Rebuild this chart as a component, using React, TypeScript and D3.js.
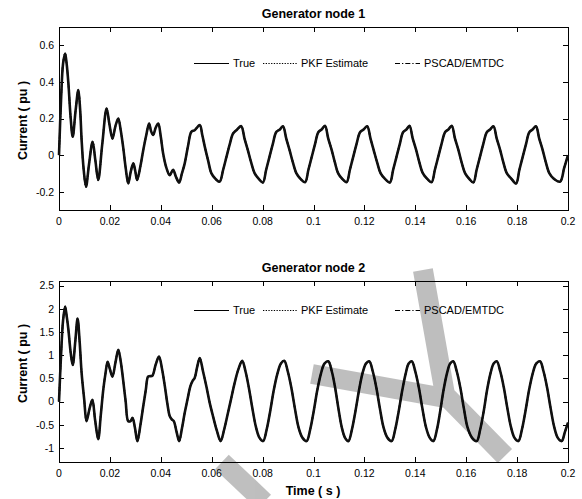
import React, { useEffect, useRef } from "react";
import * as d3 from "d3";

// ---- data ----
const time1 = [
  0.0, 0.0008, 0.0016, 0.0024, 0.003, 0.0037, 0.0046, 0.0054, 0.0065, 0.0076, 0.0083, 0.0089, 0.0097, 0.0106,
  0.0118, 0.0132, 0.0143, 0.0154, 0.017, 0.0187, 0.0198, 0.021, 0.0222, 0.0233, 0.0242, 0.0252, 0.0262, 0.0272,
  0.0282, 0.0292, 0.03, 0.0307, 0.032, 0.0331, 0.0343, 0.0354, 0.0362, 0.037, 0.038, 0.039, 0.04, 0.0409, 0.0422,
  0.0435, 0.0448, 0.046, 0.0472, 0.0483, 0.0494, 0.0507, 0.052, 0.0533, 0.0553, 0.0563, 0.0573, 0.0586, 0.0599,
  0.0615, 0.0631, 0.0645, 0.0658, 0.0671, 0.0684, 0.07, 0.0716, 0.0729, 0.0742, 0.0755, 0.0769, 0.0785, 0.0801,
  0.0814, 0.0827, 0.084, 0.0854, 0.0868, 0.088, 0.0893, 0.0906, 0.0919, 0.0933, 0.0949, 0.0967, 0.098, 0.0993,
  0.1006, 0.1019, 0.1032, 0.1045, 0.1058, 0.1071, 0.1084, 0.1097, 0.1113, 0.113, 0.1143, 0.1156, 0.1169, 0.1183,
  0.1197, 0.1211, 0.1224, 0.1237, 0.125, 0.1264, 0.1281, 0.13, 0.1313, 0.1326, 0.1339, 0.1352, 0.1365, 0.1377,
  0.139, 0.1403, 0.1416, 0.143, 0.1447, 0.1464, 0.1477, 0.149, 0.1503, 0.1517, 0.153, 0.1543, 0.1556, 0.1569,
  0.1582, 0.1596, 0.1612, 0.1628, 0.1641, 0.1654, 0.1667, 0.1681, 0.1694, 0.1707, 0.172, 0.1733, 0.1746, 0.176,
  0.1778, 0.1796, 0.1809, 0.1822, 0.1835, 0.1848, 0.1861, 0.1874, 0.1887, 0.19, 0.1913, 0.1927, 0.1945, 0.1969,
  0.1985, 0.2,
];
const current1 = [
  0.0, 0.3, 0.5, 0.555, 0.5, 0.39, 0.2, 0.1, 0.24, 0.355, 0.25, 0.08, -0.08, -0.173,
  -0.05, 0.073, -0.03, -0.136, 0.06, 0.255, 0.17, 0.09, 0.16, 0.2, 0.14, 0.045, -0.07, -0.155,
  -0.09, -0.045, -0.09, -0.136, -0.06, 0.027, 0.11, 0.173, 0.13, 0.11, 0.15, 0.173, 0.1, 0.01, -0.07,
  -0.11, -0.08, -0.12, -0.15, -0.1, -0.045, 0.05, 0.127, 0.136, 0.164, 0.11, 0.045, -0.03, -0.1,
  -0.13, -0.145, -0.08, -0.01, 0.06, 0.118, 0.14, 0.158, 0.09, 0.027, -0.04, -0.1, -0.13, -0.15,
  -0.08, -0.01, 0.06, 0.127, 0.14, 0.158, 0.09, 0.027, -0.04, -0.1, -0.13, -0.148, -0.08, -0.01,
  0.06, 0.125, 0.14, 0.16, 0.09, 0.03, -0.04, -0.1, -0.13, -0.148, -0.08, -0.01, 0.06, 0.125,
  0.14, 0.158, 0.09, 0.025, -0.04, -0.1, -0.13, -0.15, -0.08, -0.01, 0.06, 0.125, 0.14, 0.16,
  0.09, 0.03, -0.04, -0.1, -0.13, -0.148, -0.08, -0.01, 0.06, 0.125, 0.14, 0.16, 0.09, 0.03,
  -0.04, -0.1, -0.13, -0.15, -0.08, -0.01, 0.06, 0.125, 0.14, 0.158, 0.09, 0.03, -0.04, -0.1,
  -0.13, -0.155, -0.08, -0.01, 0.06, 0.125, 0.14, 0.158, 0.09, 0.03, -0.04, -0.1, -0.13, -0.145,
  -0.07, 0.0,
];

const time2 = [
  0.0, 0.0008, 0.0016, 0.0024, 0.003, 0.0037, 0.0046, 0.0054, 0.0064, 0.0073, 0.0081, 0.0089, 0.0099, 0.0108,
  0.012, 0.0131, 0.0142, 0.0154, 0.0164, 0.0174, 0.0183, 0.0191, 0.02, 0.021, 0.0222, 0.0233, 0.0243, 0.0252,
  0.0262, 0.0272, 0.0281, 0.0289, 0.0298, 0.0308, 0.032, 0.0331, 0.0341, 0.035, 0.0358, 0.0367, 0.038, 0.0393,
  0.0405, 0.0416, 0.0426, 0.0435, 0.0443, 0.0451, 0.0462, 0.0472, 0.0483, 0.0494, 0.0505, 0.0516, 0.0525, 0.0533,
  0.0543, 0.0553, 0.0566, 0.0579, 0.0592, 0.0605, 0.062, 0.0635, 0.0649, 0.0664, 0.0677, 0.069, 0.0705, 0.072,
  0.0733, 0.0746, 0.076, 0.0774, 0.0788, 0.0802, 0.0816, 0.083, 0.0844, 0.0858, 0.0872, 0.0885, 0.0899, 0.0913,
  0.0927, 0.0941, 0.0957, 0.0973, 0.0987, 0.1001, 0.1015, 0.1029, 0.1043, 0.1058, 0.1072, 0.1085, 0.1098, 0.1111,
  0.1124, 0.1137, 0.1151, 0.1165, 0.1179, 0.1192, 0.1206, 0.1219, 0.1233, 0.1247, 0.1261, 0.1275, 0.1291, 0.1307,
  0.1321, 0.1335, 0.1349, 0.1362, 0.1374, 0.1386, 0.14, 0.1414, 0.1428, 0.1442, 0.1457, 0.1471, 0.1485, 0.1498,
  0.1511, 0.1524, 0.1537, 0.1549, 0.1563, 0.1577, 0.1591, 0.1605, 0.1623, 0.1641, 0.1655, 0.1669, 0.1682, 0.1695,
  0.1708, 0.172, 0.1734, 0.1748, 0.1762, 0.1776, 0.179, 0.1805, 0.1819, 0.1833, 0.1847, 0.1861, 0.1875, 0.189,
  0.1904, 0.1918, 0.1932, 0.1946, 0.196, 0.1975, 0.1988, 0.2,
];
const current2 = [
  0.0, 1.0, 1.75, 2.05, 1.85, 1.55, 1.05, 0.79, 1.3, 1.79, 1.3, 0.61, 0.05, -0.42,
  -0.15, 0.04, -0.4, -0.81, -0.3, 0.26, 0.62, 0.86, 0.7, 0.54, 0.85, 1.12, 0.85, 0.47,
  0.0, -0.42, -0.42, -0.35, -0.55, -0.85, -0.5, -0.1, 0.25, 0.54, 0.55, 0.56, 0.8, 0.97,
  0.7, 0.33, -0.05, -0.31, -0.38, -0.42, -0.65, -0.85, -0.58, -0.24, 0.05, 0.33, 0.45, 0.51,
  0.75, 0.94, 0.65, 0.33, -0.02, -0.31, -0.62, -0.85, -0.6, -0.24, 0.08, 0.4, 0.7, 0.88,
  0.65, 0.3, -0.15, -0.55, -0.78, -0.85, -0.6, -0.2, 0.25, 0.6, 0.82, 0.88, 0.65, 0.3,
  -0.15, -0.55, -0.78, -0.85, -0.6, -0.2, 0.25, 0.6, 0.82, 0.87, 0.65, 0.3, -0.15, -0.55,
  -0.78, -0.85, -0.6, -0.2, 0.25, 0.6, 0.82, 0.87, 0.65, 0.3, -0.15, -0.55, -0.78, -0.85,
  -0.6, -0.2, 0.25, 0.6, 0.82, 0.87, 0.65, 0.3, -0.15, -0.55, -0.78, -0.85, -0.6, -0.2,
  0.25, 0.6, 0.82, 0.87, 0.65, 0.3, -0.15, -0.55, -0.78, -0.85, -0.6, -0.2, 0.25, 0.6,
  0.82, 0.87, 0.65, 0.3, -0.15, -0.55, -0.78, -0.85, -0.6, -0.2, 0.25, 0.6, 0.82, 0.87,
  0.65, 0.3, -0.15, -0.55, -0.78, -0.85, -0.65, -0.45,
];

const seriesNames = ["True", "PKF Estimate", "PSCAD/EMTDC"];
const titles = ["Generator node 1", "Generator node 2"];
const xTicks = [0, 0.02, 0.04, 0.06, 0.08, 0.1, 0.12, 0.14, 0.16, 0.18, 0.2];
const yTicks1 = [-0.2, 0, 0.2, 0.4, 0.6];
const yTicks2 = [-1, -0.5, 0, 0.5, 1, 1.5, 2, 2.5];

// gray overlay strokes on the lower panel, in its (s, pu) units
const overlayA = [[0.143, 2.837], [0.1517, 0.144], [0.1752, -1.17]];
const overlayB = [[0.0994, 0.596], [0.1517, 0.079]];
const overlayC = [[0.064, -1.3], [0.0806, -2.16]];

const W = 582;
const H = 499;
const FONT = "'Liberation Sans', Arial, Helvetica, sans-serif";

const panels = [
  { title: titles[0], time: time1, values: current1, yDomain: [-0.3, 0.7], yTicks: yTicks1, top: 27, bottom: 210, legendY: 63 },
  { title: titles[1], time: time2, values: current2, yDomain: [-1.3, 2.6], yTicks: yTicks2, top: 281, bottom: 462, legendY: 310 },
];

const dashes = [null, "1.3,1.4", "5,2,1.3,2"];

export default function App() {
  const ref = useRef<SVGSVGElement>(null);

  useEffect(() => {
    const svg = d3.select(ref.current);
    svg.selectAll("*").remove();

    const left = 59;
    const right = 568;
    const x = d3.scaleLinear().domain([0, 0.2]).range([left, right]);
    const fmt = (v: number) => String(+v.toFixed(2));

    panels.forEach((p, pi) => {
      const y = d3.scaleLinear().domain(p.yDomain).range([p.bottom, p.top]);
      const g = svg.append("g");

      // frame
      g.append("rect")
        .attr("x", left + 0.5).attr("y", p.top + 0.5)
        .attr("width", right - left).attr("height", p.bottom - p.top)
        .attr("fill", "none").attr("stroke", "#000").attr("stroke-width", 1);

      // x ticks (bottom + top, inward)
      xTicks.forEach(t => {
        const xx = Math.round(x(t)) + 0.5;
        g.append("line").attr("x1", xx).attr("x2", xx).attr("y1", p.bottom).attr("y2", p.bottom - 5).attr("stroke", "#000");
        g.append("line").attr("x1", xx).attr("x2", xx).attr("y1", p.top).attr("y2", p.top + 5).attr("stroke", "#000");
        g.append("text")
          .attr("x", x(t)).attr("y", p.bottom + 15)
          .attr("text-anchor", "middle")
          .attr("font-size", 10.5).attr("font-family", FONT)
          .text(fmt(t));
      });

      // y ticks (left + right, inward)
      p.yTicks.forEach(v => {
        const yy = Math.round(y(v)) + 0.5;
        g.append("line").attr("x1", left).attr("x2", left + 5).attr("y1", yy).attr("y2", yy).attr("stroke", "#000");
        g.append("line").attr("x1", right).attr("x2", right - 5).attr("y1", yy).attr("y2", yy).attr("stroke", "#000");
        g.append("text")
          .attr("x", left - 5).attr("y", y(v) + 3.8)
          .attr("text-anchor", "end")
          .attr("font-size", 10.5).attr("font-family", FONT)
          .text(fmt(v));
      });

      // curves: three overlapping series
      const line = d3.line<number>()
        .x((_, i) => x(p.time[i]))
        .y(d => y(d))
        .curve(d3.curveCatmullRom.alpha(0.5));
      seriesNames.forEach((name, si) => {
        const path = g.append("path")
          .attr("d", line(p.values))
          .attr("fill", "none")
          .attr("stroke", "#111")
          .attr("stroke-width", si === 0 ? 2.6 : 1.6)
          .attr("stroke-linejoin", "round");
        if (dashes[si]) path.attr("stroke-dasharray", dashes[si]);
      });

      // legend
      const lg = g.append("g").attr("font-family", FONT).attr("font-size", 11);
      const items = [
        { x0: 194, x1: 229, tx: 233 },
        { x0: 263, x1: 297, tx: 301 },
        { x0: 395, x1: 420, tx: 424 },
      ];
      items.forEach((it, si) => {
        const ln = lg.append("line")
          .attr("x1", it.x0).attr("x2", it.x1)
          .attr("y1", p.legendY + 0.5).attr("y2", p.legendY + 0.5)
          .attr("stroke", "#000").attr("stroke-width", 1);
        if (dashes[si]) ln.attr("stroke-dasharray", dashes[si]);
        lg.append("text").attr("x", it.tx).attr("y", p.legendY + 4).text(seriesNames[si]);
      });

      // title
      g.append("text")
        .attr("x", (left + right) / 2).attr("y", p.top - 9)
        .attr("text-anchor", "middle")
        .attr("font-family", FONT).attr("font-size", 12.5).attr("font-weight", "bold")
        .text(p.title);

      // y label
      const cy = (p.top + p.bottom) / 2 + (pi === 0 ? 2 : -8);
      g.append("text")
        .attr("transform", `translate(27,${cy}) rotate(-90)`)
        .attr("text-anchor", "middle")
        .attr("font-family", FONT).attr("font-size", 12.5).attr("font-weight", "bold")
        .text("Current ( pu )");

      if (pi === 1) {
        g.append("text")
          .attr("x", 313).attr("y", 495)
          .attr("text-anchor", "middle")
          .attr("font-family", FONT).attr("font-size", 12.5).attr("font-weight", "bold")
          .text("Time ( s )");

        // gray overlay
        const og = svg.append("g").attr("opacity", 0.25);
        const ol = d3.line<number[]>().x(d => x(d[0])).y(d => y(d[1]));
        [overlayA, overlayB, overlayC].forEach(o => {
          og.append("path")
            .attr("d", ol(o))
            .attr("fill", "none")
            .attr("stroke", "#000")
            .attr("stroke-width", 20)
            .attr("stroke-linejoin", "miter");
        });
      }
    });
  }, []);

  return (
    <svg
      ref={ref}
      width={W}
      height={H}
      style={{ position: "absolute", left: 0, top: 0, background: "#fff" }}
    />
  );
}
